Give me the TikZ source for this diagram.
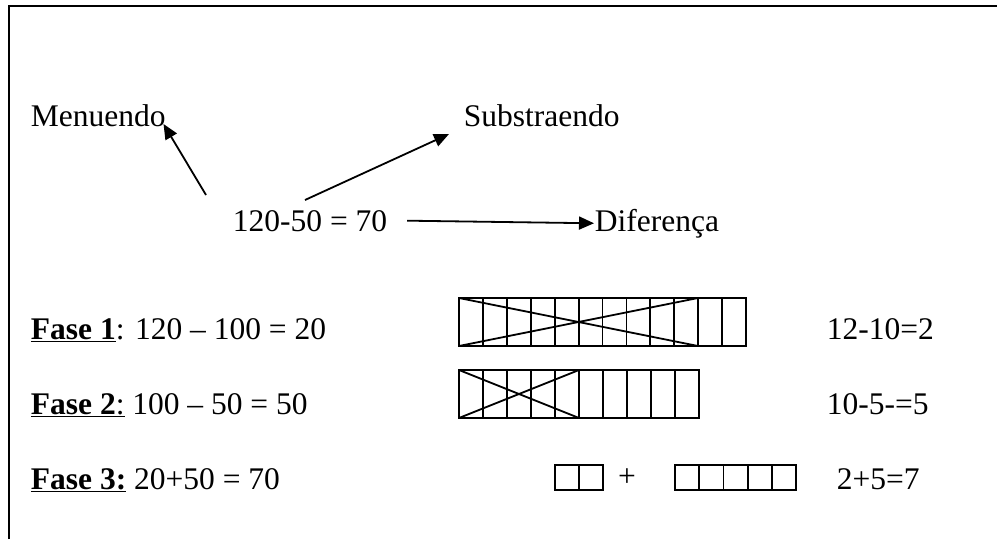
\documentclass[tikz,border=0pt]{standalone}
\usepackage{fontspec}
\setmainfont{Liberation Serif}
\usetikzlibrary{arrows.meta}

\begin{document}
\begin{tikzpicture}[x=1pt, y=-1pt, font=\fontsize{31.5}{36}\selectfont,
    >={Triangle[length=15pt,width=13pt]}, line width=1.8pt,
    txt/.style={anchor=base west, inner sep=0pt},
    boxline/.style={line width=1.8pt}]
  \useasboundingbox (0,0) rectangle (997,539);
  \draw[line width=2.2pt] (9,539) -- (9,6) -- (997,6);

  % the subtraction and its parts
  \node[txt] (menu) at (30,126) {Menuendo};
  \node[txt] (subs) at (463,126) {Substraendo};
  \node[txt] (eq) at (232,231) {120-50 = 70};
  \node[txt] (dif) at (594,231) {Diferença};
  \coordinate (m0) at (206,195);
  \coordinate (s0) at (305,200);
  \draw[->] (m0) -- ([xshift=-3pt,yshift=2pt]menu.base east);
  \draw[->] (s0) -- ([xshift=-14pt,yshift=-8pt]subs.base west);
  \draw[->] ([xshift=19pt]eq.east) -- (dif.west);

  % the three phases
  \node[txt] (f1) at (30,339) {\underline{\textbf{Fase 1}}: 120 \textendash{} 100 = 20};
  \node[txt] (f2) at (30,414) {\underline{\textbf{Fase 2}:} 100 \textendash{} 50 = 50};
  \node[txt] (f3) at (30,489) {\underline{\textbf{Fase 3:}} 20+50 = 70};
  \node[txt] (r1) at (826,339) {12-10=2};
  \node[txt] (r2) at (826,414) {10-5-=5};
  \node[txt] (r3) at (836,489) {2+5=7};

  % strips of cells
  \draw[boxline] (459,298) rectangle (746,346);
  \foreach \i in {1,...,11}
    \draw[boxline] ({459+23.92*\i},298) -- ++(0,48);
  \draw[boxline] (459,298) -- (698,346) (459,346) -- (698,298);

  \draw[boxline] (459,370) rectangle (699,418);
  \foreach \i in {1,...,9}
    \draw[boxline] ({459+24*\i},370) -- ++(0,48);
  \draw[boxline] (459,370) -- (579,418) (459,418) -- (579,370);

  \draw[boxline] (555,465) rectangle (603,490);
  \draw[boxline] (579,465) -- (579,490);
  \node[inner sep=0pt] (plus) at (627,478) {+};
  \draw[boxline] (675,465) rectangle (796,490);
  \foreach \i in {1,...,4}
    \draw[boxline] ({675+24.2*\i},465) -- ++(0,25);
\end{tikzpicture}
\end{document}
